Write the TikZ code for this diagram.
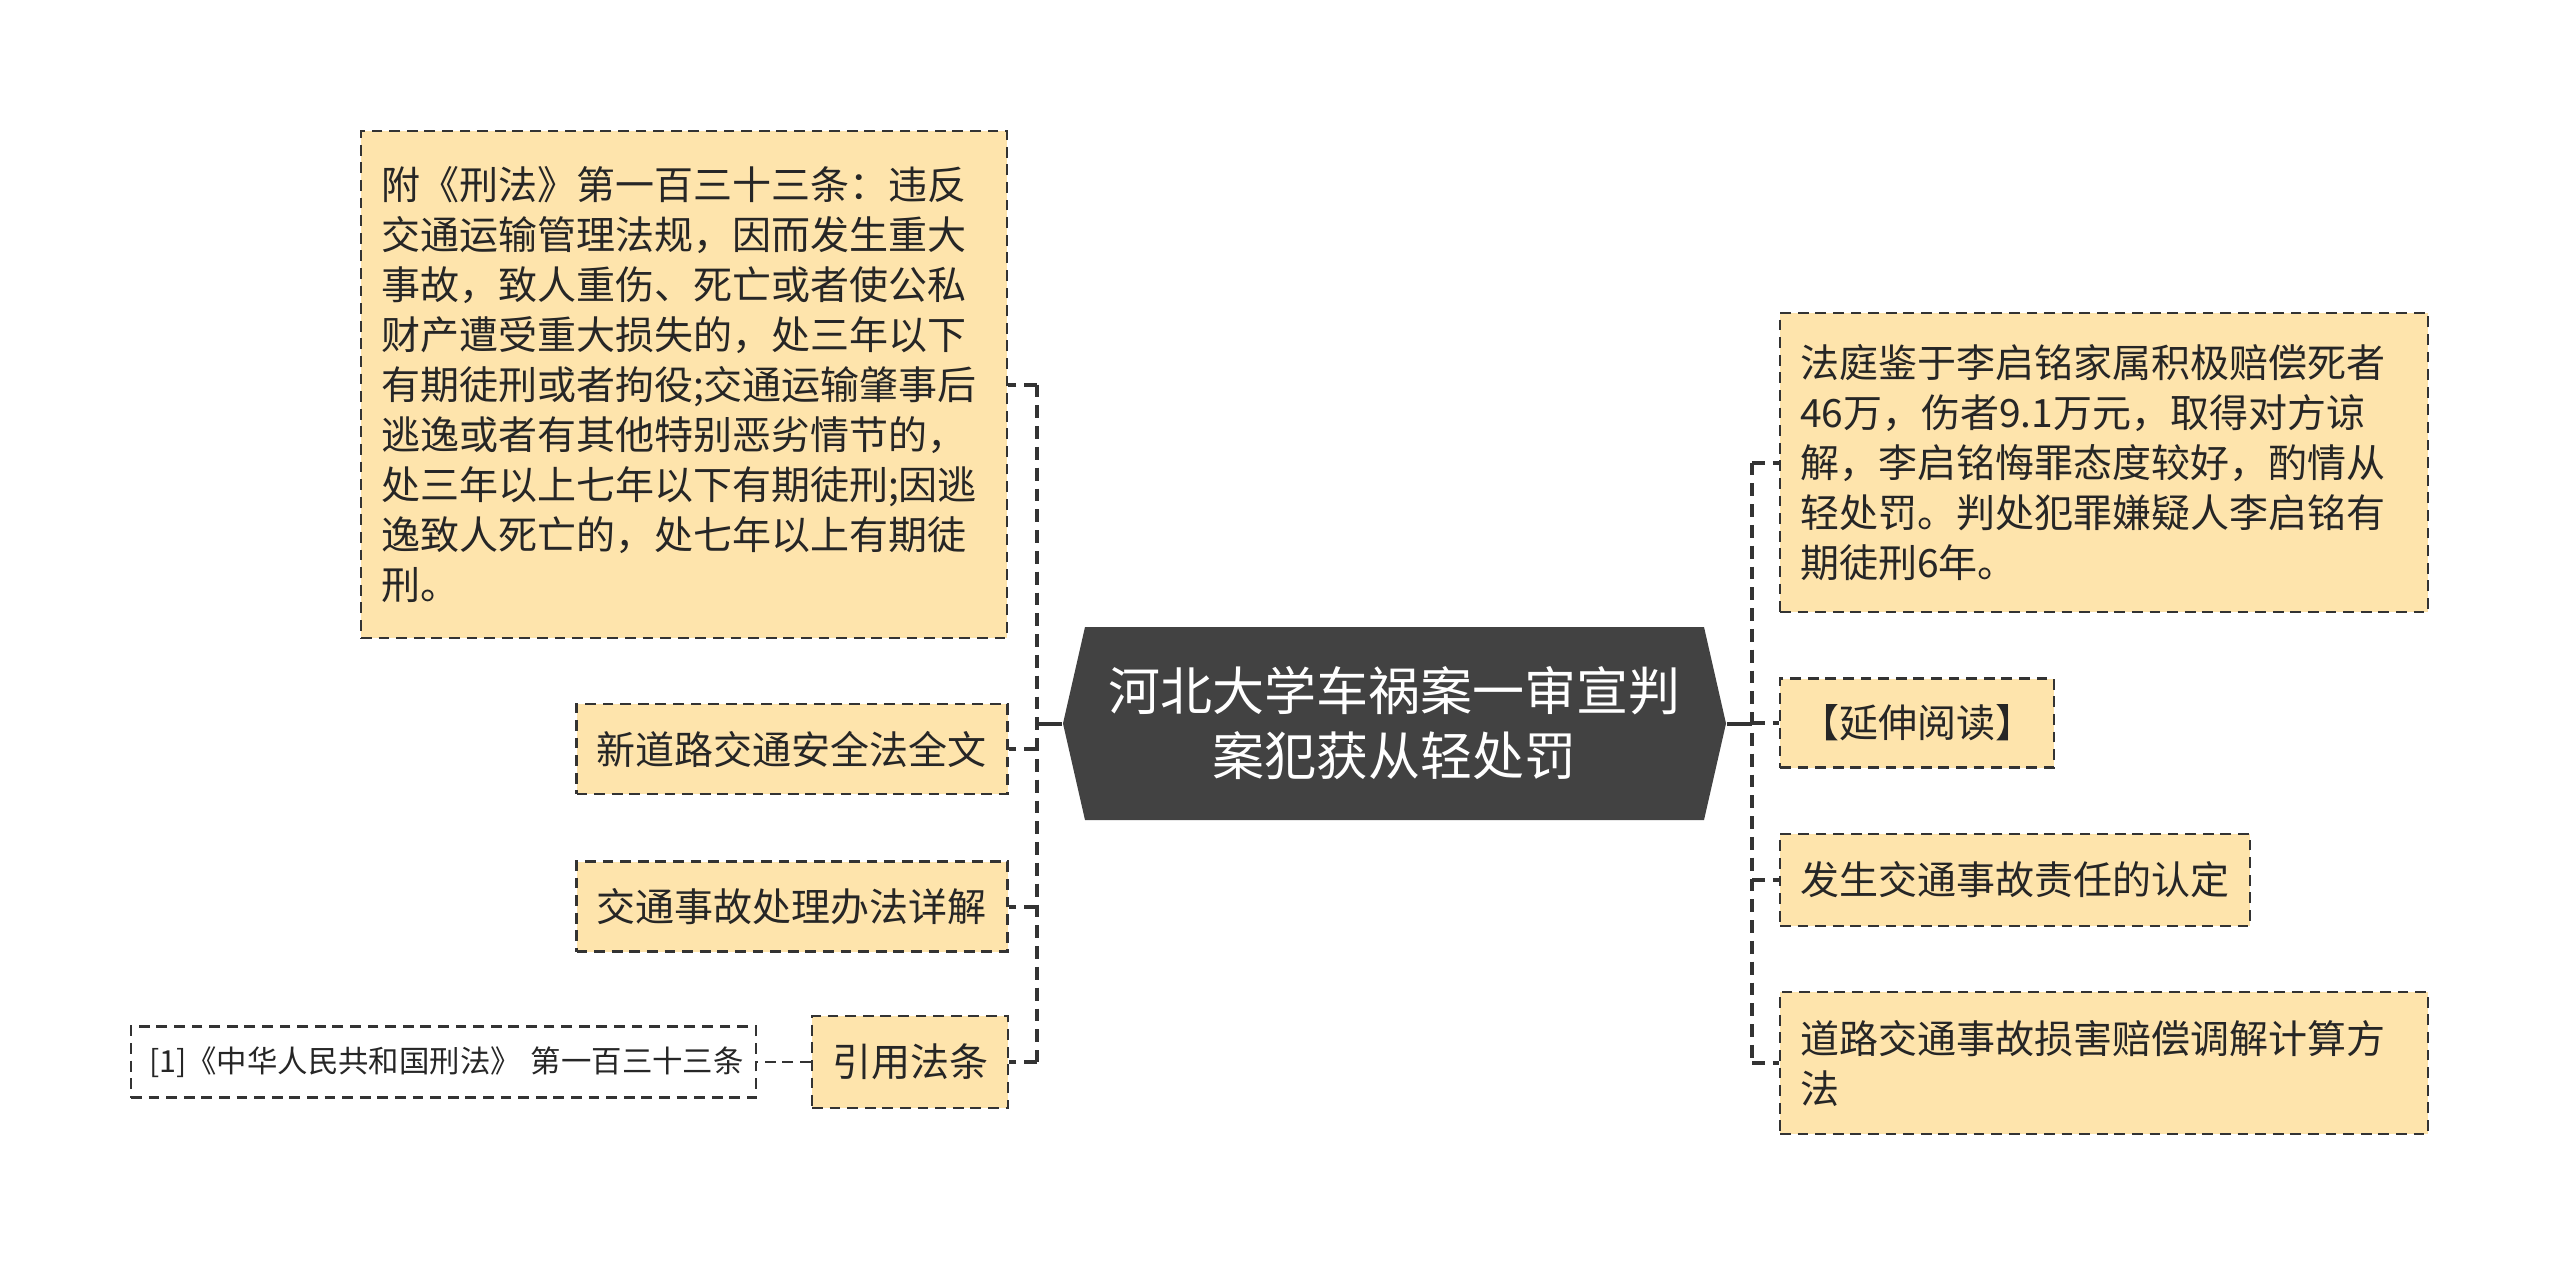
\documentclass[tikz,border=0pt]{standalone}
\usepackage{fontspec}
\setmainfont{Noto Sans CJK SC}
\usetikzlibrary{calc}
\definecolor{leafFill}{RGB}{254,228,172}
\definecolor{lineDark}{RGB}{51,51,51}
\definecolor{hubGray}{RGB}{66,66,66}
\definecolor{textDark}{RGB}{38,38,38}
\tikzset{
  leaf/.style={draw=lineDark,fill=leafFill,line width=.65pt,dash pattern=on 2.7pt off 1.7pt,
    inner xsep=5pt,inner ysep=0pt,align=left,text=textDark,font=\fontsize{9.75}{12.5}\selectfont},
  refbox/.style={leaf,fill=white,inner xsep=4.5pt,font=\fontsize{7.6}{9}\selectfont},
  branch/.style={lineDark,line width=1pt,dash pattern=on 3.2pt off 2pt},
  hubline/.style={lineDark,line width=1pt},
}

\begin{document}
\begin{tikzpicture}[x=0.25pt,y=-0.25pt,line cap=butt,line join=miter]
  \fill[white] (0,0) rectangle (2560,1265);
  \useasboundingbox (0,0) rectangle (2560,1265);
  \coordinate (hL) at (1063,723.5);
  \coordinate (hTL) at (1085,627);
  \coordinate (hTR) at (1704,627);
  \coordinate (hR) at (1726,723.5);
  \coordinate (hBR) at (1704,820);
  \coordinate (hBL) at (1085,820);
  \fill[hubGray] (hL)--(hTL)--(hTR)--(hR)--(hBR)--(hBL)--cycle;
  \node[text=white,font=\fontsize{13}{16.25}\selectfont,align=center,inner sep=0pt,
    minimum width=165.75pt,minimum height=48.25pt] (hub) at (1394.5,723.5)
    {河北大学车祸案一审宣判\\案犯获从轻处罚};

  \node[leaf,text width=151.5pt,minimum height=126.75pt] (lawText) at (684,384.5)
    {附《刑法》第一百三十三条：违反\\交通运输管理法规，因而发生重大\\事故，致人重伤、死亡或者使公私\\财产遭受重大损失的，处三年以下\\有期徒刑或者拘役;交通运输肇事后\\逃逸或者有其他特别恶劣情节的，\\处三年以上七年以下有期徒刑;因逃\\逸致人死亡的，处七年以上有期徒\\刑。};
  \node[leaf,text width=97.75pt,minimum height=22.5pt] (newLaw) at (792,749) {新道路交通安全法全文};
  \node[leaf,text width=97.75pt,minimum height=22.5pt] (handling) at (792,906.5) {交通事故处理办法详解};
  \node[leaf,text width=39pt,minimum height=23pt] (cited) at (910,1062) {引用法条};
  \node[refbox,text width=147.25pt,minimum height=17.75pt] (citedRef) at (443.5,1062) {[1]《中华人民共和国刑法》~第一百三十三条};

  \node[leaf,text width=152pt,minimum height=74.75pt] (verdict) at (2104,462.5)
    {法庭鉴于李启铭家属积极赔偿死者\\46万，伤者9.1万元，取得对方谅\\解，李启铭悔罪态度较好，酌情从\\轻处罚。判处犯罪嫌疑人李启铭有\\期徒刑6年。};
  \node[leaf,text width=58.5pt,minimum height=22.25pt] (reading) at (1917,723) {【延伸阅读】};
  \node[leaf,text width=107.5pt,minimum height=23pt] (liability) at (2015,880) {发生交通事故责任的认定};
  \node[leaf,text width=152pt,minimum height=35.5pt] (compensation) at (2104,1063)
    {道路交通事故损害赔偿调解计算方\\法};

  \coordinate (lj) at (1037,723.5);
  \coordinate (rj) at (1752,723.5);
  \draw[hubline] (hub.west) -- (lj);
  \draw[hubline] (hub.east) -- (rj);
  \draw[branch] (lj |- lawText.east) -- (lj |- cited.east);
  \draw[branch] (rj |- verdict.west) -- (rj |- compensation.west);
  \foreach \n in {lawText,newLaw,handling,cited}
    \draw[branch] (lj |- \n.east) -- (\n.east);
  \foreach \n in {verdict,reading,liability,compensation}
    \draw[branch] (rj |- \n.west) -- (\n.west);
  \draw[lineDark,line width=.65pt,dash pattern=on 2.7pt off 1.7pt] (cited.west) -- (citedRef.east);
\end{tikzpicture}
\end{document}
